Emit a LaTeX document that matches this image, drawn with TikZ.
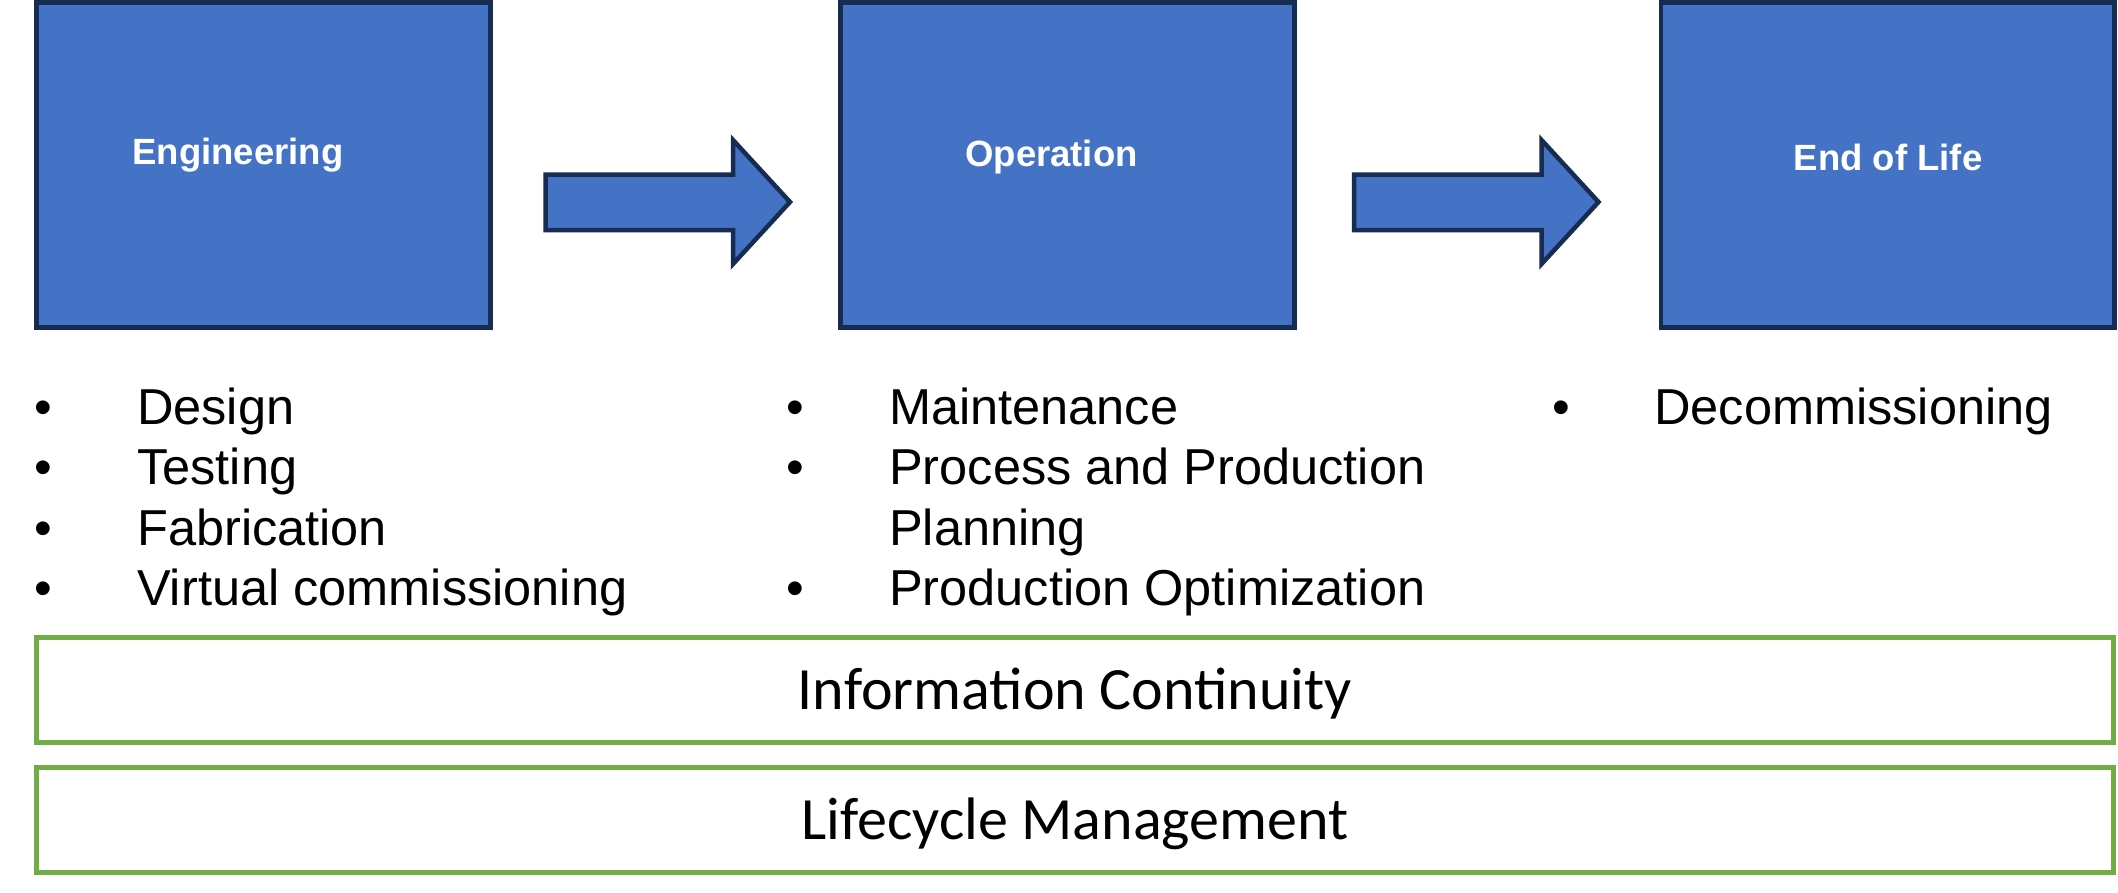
\documentclass[tikz,border=0pt]{standalone}
\usepackage{fontspec}
\setmainfont{Liberation Sans}
\newfontfamily\carlitofont{Carlito}
\definecolor{boxblue}{HTML}{4472C4}
\definecolor{boxnavy}{HTML}{172C51}
\definecolor{boxgreen}{HTML}{70AD47}
\tikzset{
  phase/.style={draw=boxnavy, fill=boxblue, line width=4.5pt},
  phaselabel/.style={anchor=base, inner sep=0pt, text=white, font=\fontsize{36.5}{44}\selectfont\bfseries},
  blockarrow/.style={draw=boxnavy, fill=boxblue, line width=4.5pt, line join=miter},
  bandbox/.style={draw=boxgreen, line width=5pt},
  bandlabel/.style={anchor=base, inner sep=0pt, font=\fontsize{60}{72}\selectfont\carlitofont},
  bulletdot/.style={anchor=base, inner sep=0pt, font=\fontsize{50.5}{60}\selectfont},
  itemtext/.style={anchor=base west, inner sep=0pt, font=\fontsize{50.5}{60}\selectfont},
}
\begin{document}
\begin{tikzpicture}[x=1pt,y=-1pt]
\useasboundingbox (0,0) rectangle (2118,892);
% phase boxes
\draw[phase] (36.5,2.5) rectangle (490.5,327.5);
\draw[phase] (840.5,2.5) rectangle (1294.5,327.5);
\draw[phase] (1661,2.5) rectangle (2114.5,327.5);
\node[phaselabel] (eng) at (238,164) {Engineering};
\node[phaselabel] (op) at (1051.5,166) {Operation};
\node[phaselabel] (eol) at (1888,170) {End of Life};
% block arrows
\draw[blockarrow] (545.5,174.5) -- (733,174.5) -- (733,140) -- (790,202) -- (733,264) -- (733,230) -- (545.5,230) -- cycle;
\draw[blockarrow] (1354,174.5) -- (1541.5,174.5) -- (1541.5,140) -- (1598.5,202) -- (1541.5,264) -- (1541.5,230) -- (1354,230) -- cycle;
% bullet lists
\node[bulletdot] (b1) at (43,424) {•};
\node[bulletdot] (b2) at (43,484.5) {•};
\node[bulletdot] (b3) at (43,545) {•};
\node[bulletdot] (b4) at (43,605.5) {•};
\node[itemtext] (t1) at (137,424) {Design};
\node[itemtext] (t2) at (137,484.5) {Testing};
\node[itemtext] (t3) at (137,545) {Fabrication};
\node[itemtext] (t4) at (137,605.5) {Virtual commissioning};
\node[bulletdot] (c1) at (795.5,424) {•};
\node[bulletdot] (c2) at (795.5,484.5) {•};
\node[bulletdot] (c4) at (795.5,605.5) {•};
\node[itemtext] (u1) at (889,424) {Maintenance};
\node[itemtext] (u2) at (889,484.5) {Process and Production};
\node[itemtext] (u3) at (889,545) {Planning};
\node[itemtext] (u4) at (889,605.5) {Production Optimization};
\node[bulletdot] (d1) at (1561.5,424) {•};
\node[itemtext] (v1) at (1654,424) {Decommissioning};
% bands
\draw[bandbox] (36.5,637) rectangle (2113,742.5);
\draw[bandbox] (36.5,767) rectangle (2113,872.5);
\node[bandlabel] (info) at (1075,709) {Information Continuity};
\node[bandlabel] (life) at (1075,839) {Lifecycle Management};
\end{tikzpicture}
\end{document}
